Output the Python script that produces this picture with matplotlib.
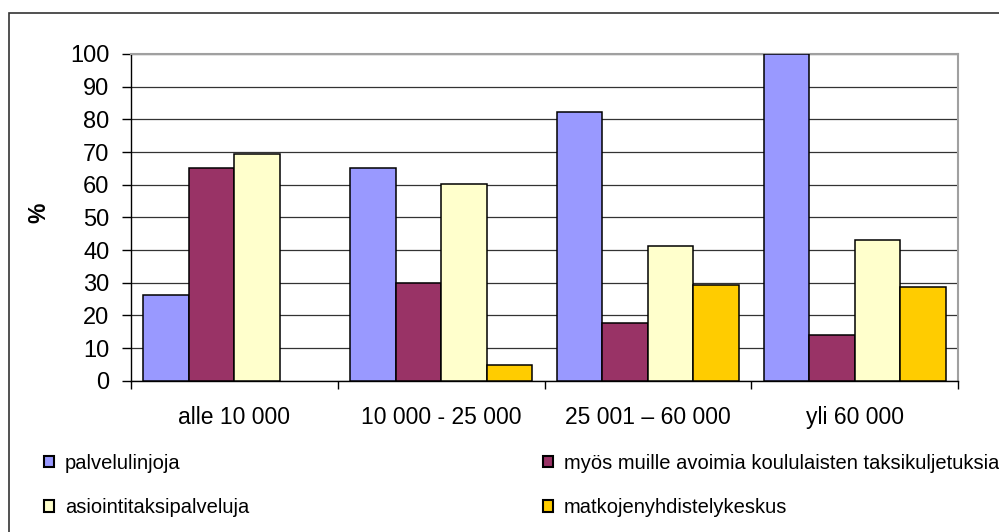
import numpy as np
import matplotlib
matplotlib.use("Agg")
import matplotlib.pyplot as plt
from matplotlib.patches import Rectangle

plt.rcParams['font.family'] = ['Liberation Sans', 'DejaVu Sans']

# Kunnan asukasluku -ryhmät
categories = ["alle 10 000", "10 000 - 25 000", "25 001 \u2013 60 000", "yli 60 000"]

# Osuudet (%) palvelumuodoittain
palvelulinjoja = [26.3, 65.0, 82.2, 100.0]
koululaiskuljetukset = [65.0, 30.0, 17.8, 14.1]
asiointitaksi = [69.3, 60.2, 41.1, 43.0]
matkojenyhdistely = [np.nan, 4.8, 29.4, 28.8]

series_names = ["palvelulinjoja",
                "myös muille avoimia koululaisten taksikuljetuksia",
                "asiointitaksipalveluja",
                "matkojenyhdistelykeskus"]
series_values = [palvelulinjoja, koululaiskuljetukset, asiointitaksi, matkojenyhdistely]
colors = ["#9999FF", "#993366", "#FFFFCC", "#FFCC00"]

fig = plt.figure(figsize=(9.99, 5.32), dpi=100)
ax = fig.add_axes([131 / 999, 1 - 380.7 / 532, 827 / 999, 326.7 / 532])

x = np.arange(len(categories))
width = 0.22
bars = []
for i, (vals, col) in enumerate(zip(series_values, colors)):
    b = ax.bar(x + (i - 1.5) * width, vals, width, color=col,
               edgecolor="black", linewidth=1.1, zorder=3)
    bars.append(b)

ax.set_xlim(-0.5, len(categories) - 0.5)
ax.set_ylim(0, 100)
ax.set_yticks(np.arange(0, 101, 10))
ax.yaxis.grid(True, color="#333333", linewidth=0.9, zorder=0)
ax.set_axisbelow(True)

# category labels centred, tick marks between the groups
ax.set_xticks(x)
ax.set_xticklabels(categories, fontsize=16.5)
ax.set_xticks(np.arange(-0.5, len(categories)), minor=True)
ax.tick_params(axis="x", which="major", length=0, pad=18)
ax.tick_params(axis="x", which="minor", length=5.5, width=1.0, direction="out")
ax.tick_params(axis="y", length=6.5, width=1.0, pad=9, labelsize=17)

for side in ("top", "right"):
    ax.spines[side].set_color("#a0a0a0")
    ax.spines[side].set_linewidth(1.5)
for side in ("left", "bottom"):
    ax.spines[side].set_color("black")
    ax.spines[side].set_linewidth(1.0)

fig.text(39 / 999, 1 - 213 / 532, "%", rotation=90, fontsize=16.5,
         fontweight="bold", ha="center", va="center")

# legend in two columns below the chart
leg_kw = dict(frameon=False, fontsize=14.5, handlelength=0.48, handleheight=0.48,
              handletextpad=0.55, labelspacing=1.25, borderpad=0, borderaxespad=0,
              loc="upper left", bbox_transform=fig.transFigure)
leg1 = fig.legend([bars[0], bars[2]], [series_names[0], series_names[2]],
                  bbox_to_anchor=(44 / 999, 1 - 454 / 532), **leg_kw)
leg2 = fig.legend([bars[1], bars[3]], [series_names[1], series_names[3]],
                  bbox_to_anchor=(543 / 999, 1 - 454 / 532), **leg_kw)
for leg in (leg1, leg2):
    for h in leg.legend_handles:
        h.set_linewidth(1.5)

# outer chart frame
fig.patches.append(Rectangle((9 / 999, -0.1), 1.0, 1 - 13 / 532 + 0.1,
                             transform=fig.transFigure, fill=False,
                             edgecolor="#333333", linewidth=1.2))

fig.savefig("out.png", dpi=100)
